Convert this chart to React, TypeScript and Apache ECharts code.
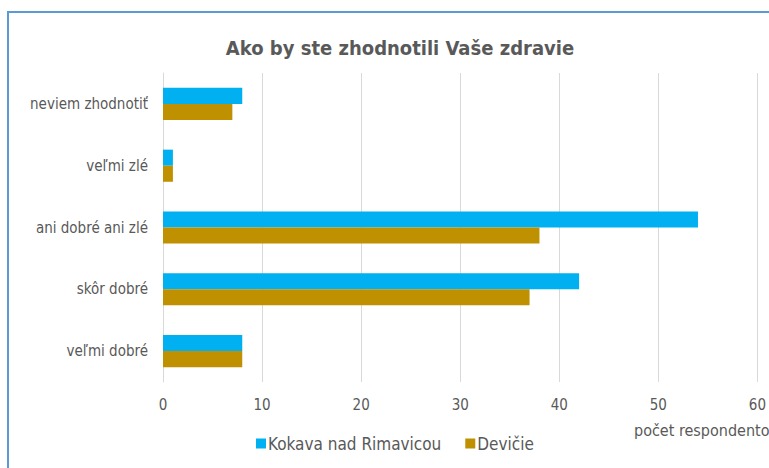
import React, { useEffect, useRef } from "react";
import * as echarts from "echarts";

const categories = ["veľmi dobré", "skôr dobré", "ani dobré ani zlé", "veľmi zlé", "neviem zhodnotiť"];
const kokava = [8, 42, 54, 1, 8];
const devicie = [8, 37, 38, 1, 7];
const xTicks = [0, 10, 20, 30, 40, 50, 60];

const FONT = "'Liberation Sans Narrow', 'DejaVu Sans Condensed', Arial, sans-serif";
const GREY = "#595959";

export default function App() {
  const ref = useRef<HTMLDivElement>(null);
  useEffect(() => {
    if (!ref.current) return;
    const chart = echarts.init(ref.current, null, { renderer: "svg" });
    chart.setOption({
      animation: false,
      backgroundColor: "#ffffff",
      title: {
        text: "Ako by ste zhodnotili Vaše zdravie",
        left: 395,
        textAlign: "center",
        top: 33,
        textStyle: { fontFamily: FONT, fontSize: 20, fontWeight: "bold", color: GREY },
      },
      legend: {
        data: ["Kokava nad Rimavicou", "Devičie"],
        left: 251,
        top: 430,
        itemWidth: 10,
        itemHeight: 10,
        itemGap: 24,
        icon: "rect",
        textStyle: { fontFamily: FONT, fontSize: 17, color: GREY, padding: [0, 0, 0, -3] },
      },
      grid: { left: 163, right: 11, top: 73, bottom: 86, containLabel: false },
      xAxis: {
        type: "value",
        min: xTicks[0],
        max: xTicks[xTicks.length - 1],
        interval: 10,
        axisLine: { show: false },
        axisTick: { show: false },
        splitLine: { lineStyle: { color: "#d9d9d9", width: 1 } },
        axisLabel: { fontFamily: FONT, fontSize: 15, color: GREY, margin: 15 },
      },
      yAxis: {
        type: "category",
        data: categories,
        axisLine: { lineStyle: { color: "#d9d9d9" } },
        axisTick: { show: false },
        axisLabel: { fontFamily: FONT, fontSize: 15, color: GREY, margin: 15 },
      },
      graphic: [
        {
          type: "rect",
          shape: { x: 8, y: 12, width: 820, height: 520 },
          style: { fill: "none", stroke: "#5B9BD5", lineWidth: 2 },
          silent: true,
        },
        {
          type: "text",
          x: 634,
          y: 422,
          style: { text: "počet respondentov", fontFamily: FONT, fontSize: 16, fill: GREY },
          silent: true,
        },
      ],
      series: [
        {
          name: "Kokava nad Rimavicou",
          type: "bar",
          data: kokava,
          itemStyle: { color: "#00B0F0" },
          barGap: "0%",
          barCategoryGap: "48%",
        },
        {
          name: "Devičie",
          type: "bar",
          data: devicie,
          itemStyle: { color: "#BF9000" },
          barGap: "0%",
          barCategoryGap: "48%",
        },
      ],
    });
    return () => chart.dispose();
  }, []);
  return <div ref={ref} style={{ position: "absolute", left: 0, top: 0, width: 769, height: 468 }} />;
}
